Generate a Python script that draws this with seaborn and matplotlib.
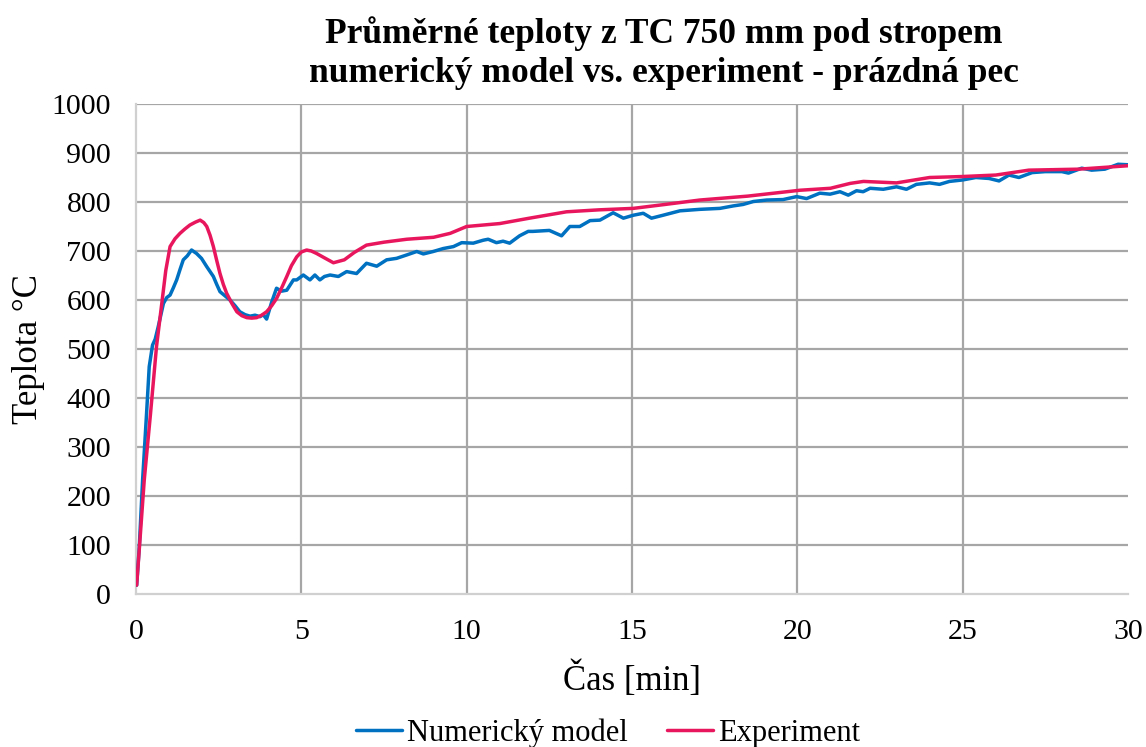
import numpy as np
import pandas as pd
import matplotlib
matplotlib.use("Agg")
import matplotlib.pyplot as plt
import seaborn as sns

# Time [min] and temperature [°C] for the numerical model
t_model = [0.02, 0.10, 0.20, 0.32, 0.40, 0.50, 0.58, 0.67, 0.83, 0.93, 1.03, 1.13, 1.23, 1.33,
           1.43, 1.55, 1.68, 1.83, 1.98, 2.14, 2.24, 2.34, 2.44, 2.54, 2.70, 2.84, 3.00,
           3.14, 3.30, 3.45, 3.60, 3.75, 3.85, 3.95, 4.10, 4.25, 4.40, 4.56, 4.76, 4.86,
           5.06, 5.26, 5.41, 5.56, 5.70, 5.87, 6.12, 6.37, 6.67, 6.97, 7.28, 7.58, 7.88,
           8.19, 8.49, 8.69, 8.99, 9.29, 9.60, 9.85, 10.20, 10.50, 10.65, 10.90, 11.10,
           11.30, 11.60, 11.86, 12.00, 12.50, 12.87, 13.12, 13.42, 13.73, 14.03, 14.43,
           14.74, 15.04, 15.34, 15.59, 15.94, 16.45, 17.05, 17.66, 18.06, 18.36, 18.67,
           19.07, 19.57, 19.98, 20.28, 20.68, 20.99, 21.29, 21.54, 21.79, 21.99, 22.20,
           22.60, 23.00, 23.30, 23.60, 24.00, 24.30, 24.60, 25.00, 25.40, 25.80, 26.10,
           26.40, 26.70, 27.10, 27.50, 28.00, 28.20, 28.60, 28.90, 29.30, 29.70, 30.00]
temp_model = [18, 97, 233, 369, 464, 508, 520, 545, 593, 605, 610, 625, 641, 662,
              682, 690, 702, 695, 685, 668, 658, 648, 632, 617, 608, 600, 588,
              576, 570, 567, 569, 566, 570, 561, 595, 624, 618, 620, 641, 641,
              651, 641, 651, 641, 648, 651, 648, 658, 654, 675, 669, 682, 685,
              692, 699, 694, 699, 705, 709, 717, 716, 722, 724, 717, 720,
              716, 731, 740, 740, 742, 731, 750, 750, 762, 763, 778,
              767, 773, 777, 767, 773, 782, 785, 787, 792, 795, 801,
              804, 805, 811, 807, 818, 816, 821, 814, 823, 821, 828,
              826, 831, 826, 836, 839, 836, 842, 845, 850, 848, 843,
              855, 850, 860, 862, 862, 859, 869, 865, 867, 877, 876]

# Time [min] and temperature [°C] measured in the experiment
t_exp = [0.02, 0.13, 0.25, 0.44, 0.62, 0.78, 0.90, 1.03, 1.18, 1.33, 1.48, 1.63, 1.80,
         1.94, 2.05, 2.14, 2.24, 2.34, 2.44, 2.54, 2.64, 2.74, 2.90, 3.05, 3.20,
         3.35, 3.50, 3.65, 3.80, 3.95, 4.10, 4.25, 4.40, 4.56, 4.70, 4.86, 5.00,
         5.16, 5.30, 5.46, 5.70, 5.97, 6.30, 6.60, 6.97, 7.50, 8.19, 9.00, 9.50,
         10.00, 11.00, 11.90, 13.02, 14.00, 15.04, 16.00, 17.05, 18.50, 20.08,
         21.00, 21.60, 22.00, 23.00, 24.00, 25.00, 26.00, 27.00, 28.50, 30.00]
temp_exp = [18, 120, 233, 369, 505, 593, 660, 709, 725, 736, 745, 753, 759,
            763, 758, 750, 732, 709, 681, 654, 632, 614, 593, 576, 568,
            564, 563, 564, 569, 576, 588, 603, 624, 648, 670, 688, 698,
            702, 700, 695, 686, 676, 682, 697, 712, 718, 724, 728, 736,
            750, 756, 767, 780, 784, 787, 795, 804, 812, 824,
            828, 838, 842, 839, 850, 852, 855, 865, 867, 874]

series_names = ["Numerický model", "Experiment"]
series_colors = ["#0070C0", "#E8175D"]
y_ticks = [0, 100, 200, 300, 400, 500, 600, 700, 800, 900, 1000]
x_ticks = [0, 5, 10, 15, 20, 25, 30]

df = pd.concat([
    pd.DataFrame({"t": t_model, "T": temp_model, "serie": series_names[0]}),
    pd.DataFrame({"t": t_exp, "T": temp_exp, "serie": series_names[1]}),
], ignore_index=True)

sns.set_theme(style="white")
plt.rcParams["font.family"] = ["Liberation Serif", "DejaVu Serif"]
plt.rcParams["text.color"] = "#000000"
plt.rcParams["axes.labelcolor"] = "#000000"

fig = plt.figure(figsize=(11.46, 7.47), dpi=100)
ax = fig.add_axes([136 / 1146, 1 - 594 / 747, (1128 - 136) / 1146, (594 - 104) / 747])

sns.lineplot(data=df, x="t", y="T", hue="serie", hue_order=series_names,
             palette=series_colors, estimator=None, sort=False, linewidth=2.5,
             ax=ax, legend=False, zorder=3)

ax.set_xlim(0, 30)
ax.set_ylim(0, 1000)
ax.set_xticks(x_ticks)
ax.set_yticks(y_ticks)
ax.tick_params(axis="both", labelsize=21.5, length=0, colors="#000000")
ax.tick_params(axis="x", pad=18)
ax.tick_params(axis="y", pad=18)

# Grid lines
for y in y_ticks[1:]:
    ax.axhline(y, color="#A6A6A6", linewidth=1.6, zorder=1)
for x in x_ticks[1:-1]:
    ax.axvline(x, color="#A6A6A6", linewidth=1.6, zorder=1)

for side in ["top", "right"]:
    ax.spines[side].set_visible(False)
for side in ["left", "bottom"]:
    ax.spines[side].set_color("#D0D0D0")
    ax.spines[side].set_linewidth(1.6)

ax.set_xlabel("Čas [min]", fontsize=25, labelpad=12)
ax.set_ylabel("Teplota °C", fontsize=25, labelpad=5)

fig.text(664 / 1146, 1 - 53 / 747,
         "Průměrné teploty z TC 750 mm pod stropem\nnumerický model vs. experiment - prázdná pec",
         ha="center", va="center", fontsize=25.5, fontweight="bold", linespacing=1.25)

handles = [plt.Line2D([], [], color=c, linewidth=2.5) for c in series_colors]
fig.legend(handles, series_names, loc="center", bbox_to_anchor=(608 / 1146, 1 - 733 / 747),
           ncol=2, frameon=False, fontsize=22, handlelength=1.5, handletextpad=0.15,
           columnspacing=1.3)

fig.savefig("out.png", dpi=100)
